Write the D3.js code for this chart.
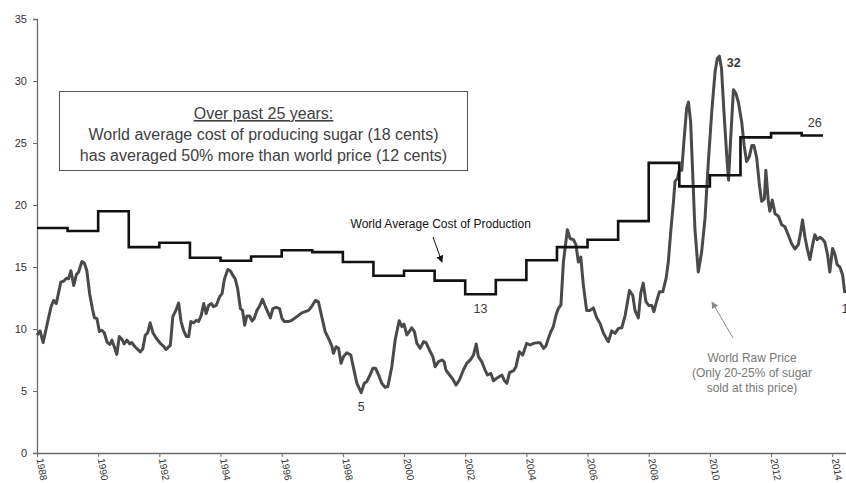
<!DOCTYPE html>
<html>
<head>
<meta charset="utf-8">
<script src="https://cdn.jsdelivr.net/npm/d3@7"></script>
<style>
  body { margin: 0; background: #fff; }
  svg { display: block; font-family: "Liberation Sans", Arial, sans-serif; }
</style>
</head>
<body>
<div id="chart"></div>
<script>
// chart size
let width = 846, height = 483;
let margin = {top: 19, right: 0, bottom: 30, left: 37};

// world average cost of production (cents/lb), one value per year
let costYears = [1988, 1989, 1990, 1991, 1992, 1993, 1994, 1995, 1996, 1997, 1998, 1999, 2000,
                 2001, 2002, 2003, 2004, 2005, 2006, 2007, 2008, 2009, 2010, 2011, 2012, 2013, 2013.7];
let costValues = [18.15, 17.9, 19.5, 16.6, 16.95, 15.75, 15.5, 15.85, 16.35, 16.2, 15.4, 14.3, 14.7,
                  13.9, 12.8, 13.95, 15.55, 16.6, 17.2, 18.7, 23.4, 21.5, 22.4, 25.45, 25.8, 25.6, 25.6];

// world raw sugar price (cents/lb)
let priceDates = [
  1988.0, 1988.1, 1988.2, 1988.35, 1988.46, 1988.54, 1988.63, 1988.78, 1988.87, 1988.96,
  1989.03, 1989.11, 1989.2, 1989.29, 1989.36, 1989.47, 1989.55, 1989.63, 1989.72, 1989.81,
  1989.88, 1989.96, 1990.04, 1990.12, 1990.2, 1990.29, 1990.38, 1990.45, 1990.53, 1990.61,
  1990.69, 1990.78, 1990.85, 1990.94, 1991.03, 1991.1, 1991.21, 1991.38, 1991.46, 1991.54,
  1991.62, 1991.7, 1991.79, 1991.9, 1992.03, 1992.14, 1992.22, 1992.36, 1992.44, 1992.54,
  1992.63, 1992.71, 1992.79, 1992.88, 1992.96, 1993.03, 1993.12, 1993.21, 1993.28, 1993.37,
  1993.45, 1993.53, 1993.61, 1993.7, 1993.77, 1993.86, 1993.97, 1994.05, 1994.13, 1994.24,
  1994.32, 1994.41, 1994.48, 1994.56, 1994.65, 1994.72, 1994.79, 1994.86, 1994.95, 1995.03,
  1995.1, 1995.19, 1995.28, 1995.37, 1995.46, 1995.54, 1995.63, 1995.71, 1995.82, 1995.93,
  1996.01, 1996.09, 1996.22, 1996.33, 1996.44, 1996.55, 1996.66, 1996.77, 1996.88, 1996.99,
  1997.1, 1997.2, 1997.31, 1997.42, 1997.53, 1997.64, 1997.69, 1997.78, 1997.86, 1997.94,
  1998.02, 1998.13, 1998.26, 1998.35, 1998.46, 1998.6, 1998.7, 1998.78, 1998.89, 1998.98,
  1999.07, 1999.17, 1999.27, 1999.38, 1999.47, 1999.6, 1999.71, 1999.84, 1999.93, 2000.0,
  2000.09, 2000.17, 2000.25, 2000.34, 2000.42, 2000.53, 2000.64, 2000.72, 2000.83, 2000.94,
  2001.02, 2001.13, 2001.24, 2001.31, 2001.37, 2001.49, 2001.6, 2001.7, 2001.81, 2001.94,
  2002.05, 2002.18, 2002.27, 2002.36, 2002.43, 2002.54, 2002.65, 2002.73, 2002.84, 2002.92,
  2003.03, 2003.2, 2003.27, 2003.36, 2003.45, 2003.58, 2003.66, 2003.77, 2003.88, 2004.01,
  2004.12, 2004.23, 2004.36, 2004.45, 2004.56, 2004.64, 2004.72, 2004.8, 2004.88, 2004.97,
  2005.05, 2005.13, 2005.21, 2005.34, 2005.43, 2005.54, 2005.62, 2005.7, 2005.78, 2005.86,
  2005.97, 2006.08, 2006.19, 2006.3, 2006.41, 2006.52, 2006.68, 2006.79, 2006.9, 2007.01,
  2007.12, 2007.23, 2007.37, 2007.48, 2007.55, 2007.66, 2007.74, 2007.82, 2007.91, 2008.0,
  2008.1, 2008.17, 2008.26, 2008.35, 2008.46, 2008.57, 2008.64, 2008.72, 2008.81, 2008.86,
  2008.94, 2009.0, 2009.08, 2009.15, 2009.24, 2009.3, 2009.37, 2009.44, 2009.51, 2009.62,
  2009.73, 2009.84, 2009.95, 2010.06, 2010.17, 2010.24, 2010.31, 2010.38, 2010.46, 2010.55,
  2010.61, 2010.68, 2010.77, 2010.85, 2010.93, 2011.04, 2011.12, 2011.2, 2011.29, 2011.37,
  2011.44, 2011.53, 2011.62, 2011.69, 2011.78, 2011.83, 2011.91, 2011.96, 2012.04, 2012.13,
  2012.24, 2012.35, 2012.45, 2012.56, 2012.67, 2012.78, 2012.89, 2012.97, 2013.03, 2013.11,
  2013.18, 2013.27, 2013.36, 2013.43, 2013.51, 2013.6, 2013.68, 2013.76, 2013.85, 2013.92,
  2014.01, 2014.09, 2014.16, 2014.25, 2014.34, 2014.41
];
let priceValues = [
  9.5, 9.85, 8.9, 10.6, 11.8, 12.3, 12.05, 13.8, 13.85, 14.1,
  14.05, 14.7, 13.5, 14.4, 14.6, 15.45, 15.3, 14.7, 12.85, 11.65,
  10.9, 10.85, 9.8, 9.9, 9.7, 8.95, 8.75, 9.1, 8.55, 7.95,
  9.4, 9.15, 8.8, 9.1, 8.8, 8.9, 8.55, 8.15, 8.4, 9.5,
  9.7, 10.5, 9.7, 9.25, 8.85, 8.6, 8.35, 8.7, 11.0, 11.5,
  12.1, 10.6, 9.9, 9.4, 9.4, 10.6, 10.5, 10.7, 10.6, 11.1,
  12.05, 11.25, 11.9, 12.05, 11.8, 11.9, 12.6, 12.85, 14.05, 14.8,
  14.7, 14.3, 14.05, 13.25, 11.65, 11.5, 10.3, 11.05, 11.05, 10.65,
  10.85, 11.5, 11.85, 12.4, 11.85, 11.4, 10.9, 11.65, 11.75, 11.65,
  10.85, 10.6, 10.6, 10.7, 10.9, 11.1, 11.3, 11.4, 11.5, 11.85,
  12.3, 12.2, 11.0, 9.8, 9.25, 8.63, 8.04, 8.57, 8.44, 7.23,
  7.77, 8.09, 7.9, 6.83, 5.62, 4.87, 5.62, 5.75, 6.29, 6.83,
  6.83, 6.29, 5.62, 5.3, 5.35, 6.96, 9.11, 10.67, 10.19, 10.4,
  9.52, 9.78, 10.1, 9.78, 8.84, 8.44, 8.98, 8.9, 8.31, 7.77,
  6.96, 7.37, 7.5, 7.37, 6.69, 6.29, 5.94, 5.48, 5.89, 6.69,
  7.23, 7.55, 7.9, 8.79, 7.77, 7.37, 6.69, 6.29, 6.42, 5.83,
  6.02, 6.29, 5.89, 5.62, 6.48, 6.64, 6.96, 8.17, 7.9, 8.84,
  8.71, 8.84, 8.9, 8.9, 8.44, 8.63, 9.25, 9.78, 10.19, 11.13,
  11.67, 11.94, 15.4, 18.0, 17.3, 17.2, 16.8, 15.4, 15.8, 13.6,
  11.5, 11.5, 11.7, 10.9, 10.45, 9.65, 8.97, 9.85, 9.65, 10.05,
  10.1, 11.1, 13.1, 12.7, 11.5, 10.9, 12.9, 13.7, 12.2, 11.9,
  11.9, 11.4, 12.25, 13.0, 13.0, 14.1, 15.4, 17.85, 20.3, 21.9,
  22.15, 22.8, 22.8, 25.1, 27.8, 28.3, 26.7, 22.4, 18.1, 14.6,
  16.2, 18.9, 23.5, 27.5, 30.75, 31.8, 32.0, 31.0, 27.5, 24.0,
  22.0, 25.4, 29.3, 29.0, 28.3, 26.7, 24.8, 23.5, 23.9, 24.8,
  24.8, 23.8, 21.6, 20.3, 20.5, 22.8, 20.3, 19.5, 20.4, 19.3,
  19.1, 18.4, 18.25, 17.6, 16.9, 16.45, 16.8, 17.85, 18.8, 17.4,
  16.5, 15.6, 16.8, 17.6, 17.2, 17.4, 17.25, 17.0, 15.95, 14.6,
  16.5, 16.0, 15.2, 15.0, 14.35, 12.9
];

let xTickYears = d3.range(1988, 2015, 2);
let yTicks = [0, 5, 10, 15, 20, 25, 30, 35];

let boxLines = ["Over past 25 years:",
                "World average cost of producing sugar (18 cents)",
                "has averaged 50% more than world price (12 cents)"];

let priceData = priceDates.map((d, i) => ({t: d, v: priceValues[i]}));
let costData = costYears.map((d, i) => ({t: d, v: costValues[i]}));

let svg = d3.select("#chart").append("svg")
  .attr("width", width)
  .attr("height", height);

let x = d3.scaleLinear()
  .domain([1988, 2014.45])
  .range([margin.left, width - margin.right]);

let y = d3.scaleLinear()
  .domain([0, 35])
  .range([height - margin.bottom, margin.top]);

let axisColor = "#6a6a6a";

// y axis
let yAxis = svg.append("g")
  .attr("transform", `translate(${margin.left},0)`)
  .call(d3.axisLeft(y).tickValues(yTicks).tickSize(4).tickPadding(6));
yAxis.select(".domain").attr("stroke", axisColor).attr("stroke-width", 1.3);
yAxis.selectAll(".tick line").attr("stroke", axisColor);
yAxis.selectAll("text")
  .attr("font-size", 11)
  .attr("fill", "#333")
  .attr("font-family", "Liberation Sans, Arial, sans-serif");

// x axis, labels turned to read downwards
let xAxis = svg.append("g")
  .attr("transform", `translate(0,${y(0)})`)
  .call(d3.axisBottom(x).tickValues(xTickYears).tickFormat(d3.format("d")).tickSize(4).tickSizeOuter(0));
xAxis.select(".domain").attr("stroke", axisColor).attr("stroke-width", 1.3);
xAxis.selectAll(".tick line").attr("stroke", axisColor);
xAxis.selectAll("text")
  .attr("font-size", 10)
  .attr("fill", "#333")
  .attr("font-family", "Liberation Sans, Arial, sans-serif")
  .attr("text-anchor", "start")
  .attr("dy", 0)
  .attr("y", 0)
  .attr("transform", "translate(-1,6) rotate(80)");

// lines
let line = d3.line()
  .x(d => x(d.t))
  .y(d => y(d.v));

svg.append("path")
  .datum(priceData)
  .attr("fill", "none")
  .attr("stroke", "#4a4a4a")
  .attr("stroke-width", 3)
  .attr("stroke-linejoin", "round")
  .attr("d", line);

svg.append("path")
  .datum(costData)
  .attr("fill", "none")
  .attr("stroke", "#111")
  .attr("stroke-width", 2.6)
  .attr("d", line.curve(d3.curveStepAfter));

// text box
let box = svg.append("g");
box.append("rect")
  .attr("x", 59.5).attr("y", 91.5)
  .attr("width", 408).attr("height", 79)
  .attr("fill", "#fff")
  .attr("stroke", "#555")
  .attr("stroke-width", 1);
box.selectAll("text.boxline")
  .data(boxLines)
  .enter()
  .append("text")
  .attr("class", "boxline")
  .attr("x", 263.5)
  .attr("y", (d, i) => 119 + i * 21)
  .attr("text-anchor", "middle")
  .attr("font-size", 16)
  .attr("fill", "#404040")
  .attr("text-decoration", (d, i) => i == 0 ? "underline" : null)
  .text(d => d);

// arrow markers
let defs = svg.append("defs");
[["arrBlack", "#111"], ["arrGrey", "#8a8a8a"]].forEach(([id, col]) => {
  defs.append("marker")
    .attr("id", id)
    .attr("viewBox", "0 0 10 10")
    .attr("refX", 9).attr("refY", 5)
    .attr("markerWidth", 7).attr("markerHeight", 7)
    .attr("markerUnits", "userSpaceOnUse")
    .attr("orient", "auto")
    .append("path")
    .attr("d", "M0,0 L10,5 L0,10 z")
    .attr("fill", col);
});

// cost of production annotation
svg.append("text")
  .attr("x", x(2001.2)).attr("y", 228)
  .attr("text-anchor", "middle")
  .attr("font-size", 12)
  .attr("fill", "#111")
  .text("World Average Cost of Production");
svg.append("line")
  .attr("x1", 433).attr("y1", 237)
  .attr("x2", 442).attr("y2", 262)
  .attr("stroke", "#111").attr("stroke-width", 1)
  .attr("marker-end", "url(#arrBlack)");

// raw price annotation
let rawNote = ["World Raw Price", "(Only 20-25% of sugar", "sold at this price)"];
svg.selectAll("text.rawnote")
  .data(rawNote)
  .enter()
  .append("text")
  .attr("class", "rawnote")
  .attr("x", 752)
  .attr("y", (d, i) => 362 + i * 15)
  .attr("text-anchor", "middle")
  .attr("font-size", 12)
  .attr("fill", "#777")
  .text(d => d);
svg.append("line")
  .attr("x1", 733).attr("y1", 338)
  .attr("x2", 712).attr("y2", 302)
  .attr("stroke", "#8a8a8a").attr("stroke-width", 1)
  .attr("marker-end", "url(#arrGrey)");

// value labels
let valueLabels = [
  {t: 2010.55, v: 32, txt: "32", bold: true, dy: 11, anchor: "start"},
  {t: 2013.43, v: 25.6, txt: "26", bold: false, dy: -9, anchor: "middle"},
  {t: 2002.5, v: 12.8, txt: "13", bold: false, dy: 19, anchor: "middle"},
  {t: 1998.6, v: 4.87, txt: "5", bold: false, dy: 18, anchor: "middle"},
  {t: 2014.3, v: 12.9, txt: "13", bold: false, dy: 20, anchor: "start"}
];
svg.selectAll("text.vlabel")
  .data(valueLabels)
  .enter()
  .append("text")
  .attr("class", "vlabel")
  .attr("x", d => x(d.t))
  .attr("y", d => y(d.v) + d.dy)
  .attr("text-anchor", d => d.anchor)
  .attr("font-size", 12.5)
  .attr("font-weight", d => d.bold ? "bold" : "normal")
  .attr("fill", "#3a3a3a")
  .text(d => d.txt);
</script>
</body>
</html>
